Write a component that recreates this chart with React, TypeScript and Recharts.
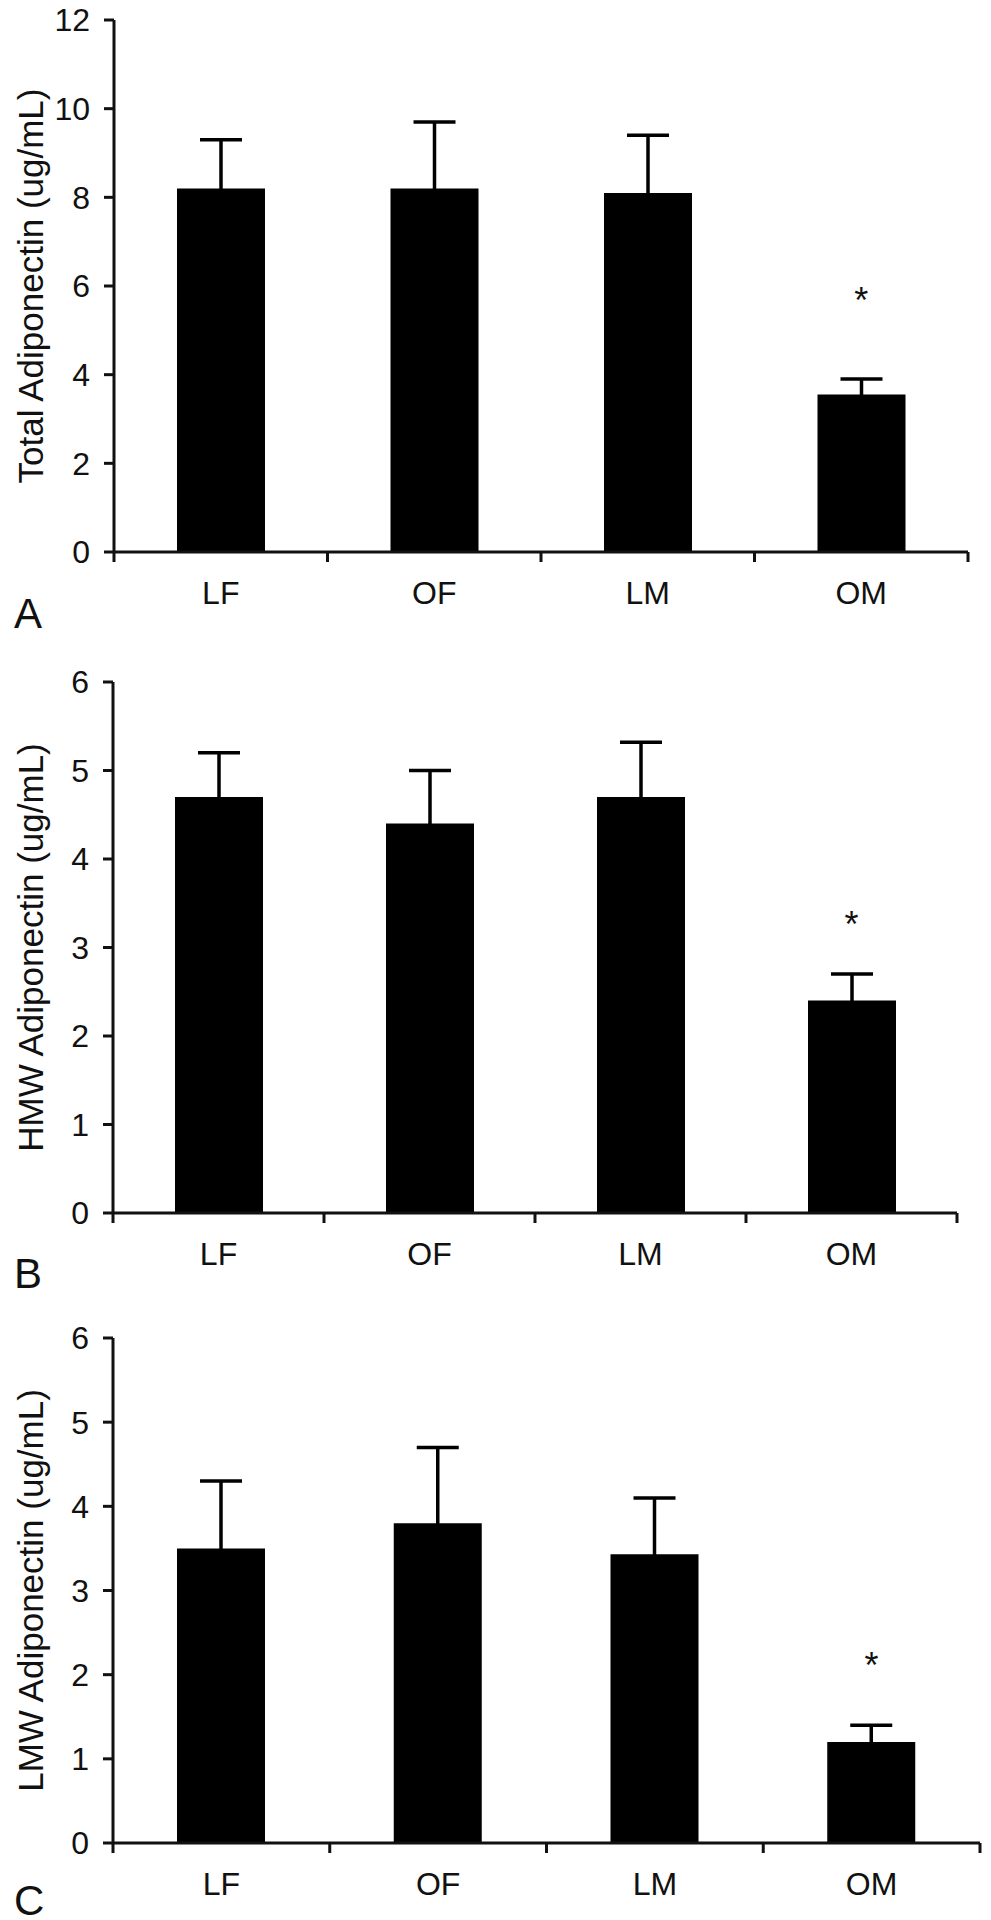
import React from "react";
import { ComposedChart, Bar, ErrorBar, Scatter, XAxis, YAxis } from "recharts";

// groups
const categories = ["LF", "OF", "LM", "OM"];

// panel A: total adiponectin (ug/mL)
const totalMean = [8.2, 8.2, 8.1, 3.55];
const totalErr = [1.1, 1.5, 1.3, 0.35];
const totalStar = [null, null, null, 5.85];
const totalTicks = [0, 2, 4, 6, 8, 10, 12];

// panel B: HMW adiponectin
const hmwMean = [4.7, 4.4, 4.7, 2.4];
const hmwErr = [0.5, 0.6, 0.62, 0.3];
const hmwStar = [null, null, null, 3.35];

// panel C: LMW adiponectin
const lmwMean = [3.5, 3.8, 3.43, 1.2];
const lmwErr = [0.8, 0.9, 0.67, 0.2];
const lmwStar = [null, null, null, 2.2];

const smallTicks = [0, 1, 2, 3, 4, 5, 6];

const FONT = '"Liberation Sans", Arial, Helvetica, sans-serif';
const INK = "#111";
const W = 991;

// only the upper whisker is shown: the lower end is tucked just inside the bar
// so its cap disappears into the black fill
function rows(mean: number[], err: number[], star: (number | null)[], max: number) {
  const tuck = max / 200;
  return categories.map((name, i) => ({
    name,
    mean: mean[i],
    err: [tuck, err[i]],
    star: star[i],
  }));
}

function CategoryTick(props: any) {
  const { x, y, payload, index, half } = props;
  const last = index === categories.length - 1;
  return (
    <g>
      <line x1={x - half} x2={x - half} y1={y} y2={y + 10} stroke={INK} strokeWidth={3} />
      {last && <line x1={x + half} x2={x + half} y1={y} y2={y + 10} stroke={INK} strokeWidth={3} />}
      <text x={x} y={y + 52} textAnchor="middle" fontSize={32} fontFamily={FONT} fill={INK}>
        {payload.value}
      </text>
    </g>
  );
}

function YTitle(props: any) {
  const { viewBox, text } = props;
  const cx = viewBox.x + 43;
  const cy = viewBox.y + viewBox.height / 2;
  return (
    <text
      x={cx}
      y={cy}
      transform={`rotate(-90, ${cx}, ${cy})`}
      textAnchor="middle"
      fontSize={35}
      fontFamily={FONT}
      fill={INK}
    >
      {text}
    </text>
  );
}

function Star(props: any) {
  const { cx, cy, payload } = props;
  if (payload == null || payload.star == null || cy == null || isNaN(cy)) return <g />;
  return (
    <text x={cx} y={cy + 20} textAnchor="middle" fontSize={36} fontFamily={FONT} fill={INK}>
      *
    </text>
  );
}

type PanelProps = {
  top: number;
  height: number;
  right: number;
  axisWidth: number;
  data: any[];
  domain: [number, number];
  ticks: number[];
  title: string;
};

function Panel({ top, height, right, axisWidth, data, domain, ticks, title }: PanelProps) {
  const half = (W - right - axisWidth) / categories.length / 2;
  return (
    <div style={{ position: "absolute", left: 0, top }}>
      <ComposedChart
        width={W}
        height={height}
        data={data}
        margin={{ top: 20, right, bottom: 0, left: 0 }}
      >
        <XAxis
          dataKey="name"
          type="category"
          interval={0}
          height={60}
          tickSize={0}
          tickMargin={0}
          tickLine={false}
          axisLine={{ stroke: INK, strokeWidth: 3 }}
          tick={<CategoryTick half={half} />}
        />
        <YAxis
          type="number"
          domain={domain}
          ticks={ticks}
          interval={0}
          width={axisWidth}
          tickSize={10}
          tickMargin={14}
          axisLine={{ stroke: INK, strokeWidth: 3 }}
          tickLine={{ stroke: INK, strokeWidth: 3 }}
          tick={{ fontSize: 32, fill: INK, fontFamily: FONT }}
          label={{ content: (p: any) => <YTitle viewBox={p.viewBox} text={title} /> }}
        />
        <Bar dataKey="mean" fill="#000" barSize={88} isAnimationActive={false}>
          <ErrorBar dataKey="err" width={21} strokeWidth={3.5} stroke="#000" direction="y" />
        </Bar>
        <Scatter dataKey="star" isAnimationActive={false} shape={<Star />} />
      </ComposedChart>
    </div>
  );
}

export default function App() {
  return (
    <div style={{ position: "absolute", left: 0, top: 0, width: W, height: 1920, background: "#fff" }}>
      <Panel
        top={0}
        height={612}
        right={23}
        axisWidth={114}
        data={rows(totalMean, totalErr, totalStar, 12)}
        domain={[0, 12]}
        ticks={totalTicks}
        title="Total Adiponectin (ug/mL)"
      />
      <Panel
        top={662}
        height={611}
        right={34}
        axisWidth={113}
        data={rows(hmwMean, hmwErr, hmwStar, 6)}
        domain={[0, 6]}
        ticks={smallTicks}
        title="HMW Adiponectin (ug/mL)"
      />
      <Panel
        top={1318}
        height={585}
        right={11}
        axisWidth={113}
        data={rows(lmwMean, lmwErr, lmwStar, 6)}
        domain={[0, 6]}
        ticks={smallTicks}
        title="LMW Adiponectin (ug/mL)"
      />
      <svg width={W} height={1920} style={{ position: "absolute", left: 0, top: 0, pointerEvents: "none" }}>
        <text x={14} y={628} fontSize={42} fontFamily={FONT} fill={INK}>A</text>
        <text x={14} y={1288} fontSize={42} fontFamily={FONT} fill={INK}>B</text>
        <text x={14} y={1915} fontSize={42} fontFamily={FONT} fill={INK}>C</text>
      </svg>
    </div>
  );
}
